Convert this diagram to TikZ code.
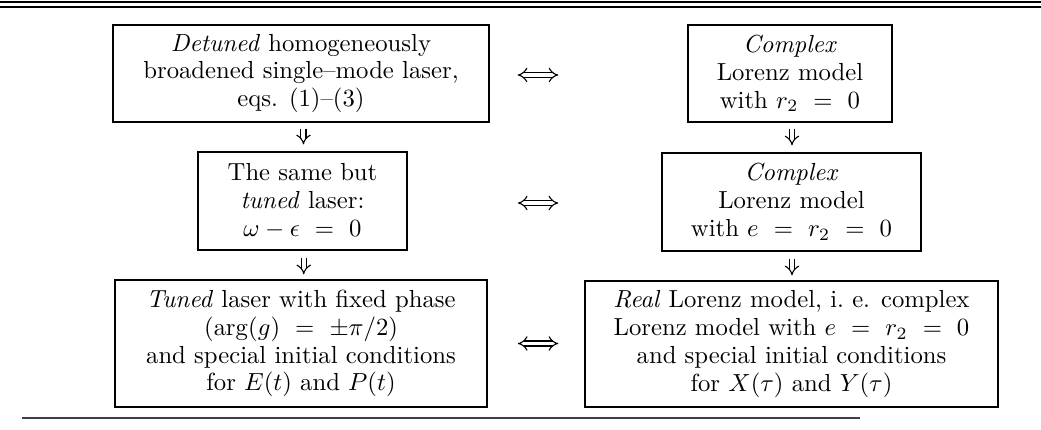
\documentclass[tikz,border=0pt]{standalone}
\usetikzlibrary{arrows.meta}
\begin{document}
\begin{tikzpicture}[x=0.405pt,y=-0.405pt,
  box/.style={draw, line width=0.6pt, align=center, inner sep=0pt, font=\fontsize{10}{11.3}\selectfont},
  imp/.style={double, double distance=1.6pt, line width=0.45pt, -{Implies}},
  equiv/.style={double, double distance=1.6pt, line width=0.45pt, {Implies}-{Implies}},
  rule/.style={line width=0.6pt}]
\useasboundingbox (0,0) rectangle (1041,429);
% rules
\draw[rule, line width=0.9pt] (0,2) -- (1041,2);
\draw[rule, line width=0.5pt] (0,7) -- (1041,7);
\draw[rule, black!75] (22,418) -- (860,418);
% left column
\node[box, minimum width={376*0.405pt}, minimum height={97*0.405pt}] (L1) at (301,73.5)
  {\textit{Detuned} homogeneously\\ broadened single--mode laser,\\ eqs. (1)--(3)};
\node[box, minimum width={209*0.405pt}, minimum height={98*0.405pt}] (L2) at (302.5,201)
  {The same but\\ \textit{tuned} laser:\\ $\omega-\epsilon\ =\ 0$};
\node[box, minimum width={372*0.405pt}, minimum height={127*0.405pt}] (L3) at (301,343.5)
  {\textit{Tuned} laser with fixed phase\\ $(\arg(g)\ =\ \pm\pi/2)$\\ and special initial conditions\\ for $E(t)$ and $P(t)$};
% right column
\node[box, minimum width={204*0.405pt}, minimum height={97*0.405pt}] (R1) at (790,73.5)
  {\textit{Complex}\\ Lorenz model\\ with $r_2\ =\ 0$};
\node[box, minimum width={259*0.405pt}, minimum height={98*0.405pt}] (R2) at (791.5,202)
  {\textit{Complex}\\ Lorenz model\\ with $e\ =\ r_2\ =\ 0$};
\node[box, minimum width={413*0.405pt}, minimum height={126*0.405pt}] (R3) at (791.5,344)
  {\textit{Real} Lorenz model, i.~e. complex\\ Lorenz model with $e\ =\ r_2\ =\ 0$\\ and special initial conditions\\ for $X(\tau)$ and $Y(\tau)$};
% vertical implications
\draw[imp, shorten <=2.4pt, shorten >=2.8pt] ([xshift=1pt]L1.south) -- ([xshift=1pt]L1.south |- L2.north);
\draw[imp, shorten <=2.8pt, shorten >=2pt] ([xshift=0.5pt]L2.south) -- ([xshift=0.5pt]L2.south |- L3.north);
\draw[imp, shorten <=2.4pt, shorten >=2.8pt] ([xshift=0.8pt]R1.south) -- ([xshift=0.8pt]R1.south |- R2.north);
\draw[imp, shorten <=2.8pt, shorten >=2pt] ([xshift=0.2pt]R2.south) -- ([xshift=0.2pt]R2.south |- R3.north);
% equivalences
\draw[equiv, shorten <=11.3pt, shorten >=52.2pt] ([yshift=-0.6pt]L1.east) -- ([yshift=-0.6pt]L1.east -| R1.west);
\draw[equiv, shorten <=44.6pt, shorten >=41.7pt] ([yshift=-0.8pt]L2.east) -- ([yshift=-0.8pt]L2.east -| R2.west);
\draw[equiv, shorten <=12.2pt, shorten >=10.5pt] (L3.east) -- (L3.east -| R3.west);
\end{tikzpicture}
\end{document}
